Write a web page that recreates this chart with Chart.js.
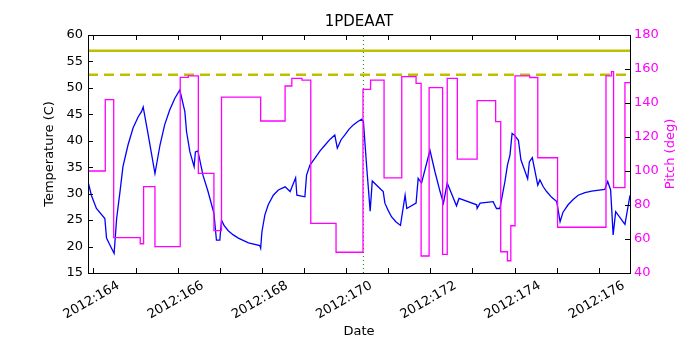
<!DOCTYPE html>
<html>
<head>
<meta charset="utf-8">
<script src="https://cdn.jsdelivr.net/npm/chart.js@4"></script>
<style>
  body { margin: 0; background: #fff; }
</style>
</head>
<body>
<canvas id="chart" width="700" height="350"></canvas>
<script>
// temperature trace (day of year 2012, deg C)
const tempDays = [163.87, 163.95, 164.07, 164.27, 164.31, 164.39, 164.49, 164.55, 164.63, 164.70,
  164.82, 164.94, 165.06, 165.14, 165.18, 165.30, 165.46, 165.58, 165.69, 165.81,
  165.93, 166.05, 166.17, 166.21, 166.29, 166.39, 166.42, 166.48, 166.60, 166.72,
  166.86, 166.92, 167.00, 167.04, 167.10, 167.20, 167.32, 167.44, 167.68, 167.95,
  167.97, 168.00, 168.07, 168.15, 168.27, 168.39, 168.55, 168.67, 168.80, 168.83,
  169.02, 169.06, 169.14, 169.26, 169.38, 169.50, 169.62, 169.73, 169.79, 169.88,
  169.97, 170.07, 170.17, 170.27, 170.37, 170.41, 170.49, 170.57, 170.62, 170.84,
  170.88, 170.92, 171.00, 171.08, 171.18, 171.29, 171.40, 171.44, 171.66, 171.71,
  171.79, 171.99, 172.11, 172.23, 172.31, 172.40, 172.62, 172.68, 173.10, 173.11,
  173.18, 173.49, 173.57, 173.65, 173.77, 173.83, 173.89, 173.94, 173.99, 174.09,
  174.15, 174.31, 174.35, 174.42, 174.55, 174.60, 174.68, 174.76, 174.88, 175.00,
  175.08, 175.15, 175.27, 175.39, 175.51, 175.67, 175.83, 176.14, 176.21, 176.28,
  176.34, 176.40, 176.62, 176.74];
const tempValues = [32.3, 29.7, 27.2, 25.3, 21.6, 20.3, 18.7, 25.3, 30.4, 35.1,
  39.2, 42.4, 44.5, 45.5, 46.4, 41.1, 33.8, 39.2, 43.0, 45.8,
  48.0, 49.6, 45.5, 41.7, 37.9, 35.1, 37.9, 38.1, 33.5, 30.4,
  26.3, 21.2, 21.2, 25.0, 24.0, 23.0, 22.2, 21.6, 20.7, 20.2,
  19.7, 22.8, 26.0, 27.9, 29.7, 30.7, 31.3, 30.4, 33.0, 29.7,
  29.4, 33.5, 35.4, 36.7, 38.1, 39.2, 40.3, 41.1, 38.6, 40.2,
  41.1, 42.2, 43.0, 43.6, 44.1, 43.6, 34.8, 26.7, 32.4, 30.7,
  30.4, 28.2, 26.8, 25.6, 24.7, 24.0, 29.7, 27.2, 28.2, 32.9,
  32.0, 38.2, 34.1, 30.4, 28.2, 32.0, 27.7, 29.1, 27.9, 27.2,
  28.2, 28.5, 27.2, 27.2, 32.3, 35.4, 37.3, 41.4, 41.1, 40.1,
  36.4, 32.8, 36.0, 36.8, 31.6, 32.6, 31.3, 30.4, 29.3, 28.5,
  24.7, 26.5, 27.9, 28.9, 29.7, 30.2, 30.5, 30.8, 32.3, 30.7,
  22.2, 26.6, 24.2, 29.7];

// pitch attitude (deg), each value holds from its day until the next
const pitchDays = [163.87, 164.28, 164.48, 165.11, 165.19, 165.46, 166.06, 166.25, 166.49, 166.86,
  167.04, 167.97, 168.55, 168.71, 168.95, 169.16, 169.76, 170.40, 170.58, 170.90,
  171.32, 171.66, 171.78, 171.97, 172.29, 172.40, 172.64, 173.11, 173.55, 173.67,
  173.83, 173.91, 174.01, 174.36, 174.55, 175.02, 176.17, 176.30, 176.35, 176.62, 176.74];
const pitchValues = [100, 142, 60.8, 57.2, 90.8, 55.5, 155.1, 155.9, 98.6, 64.9,
  143.4, 129.4, 150, 154.5, 153.5, 69.2, 52.2, 148, 153.5, 96,
  155.5, 151.6, 50, 149, 51, 154.5, 107, 141.4, 129, 52.5,
  47.2, 67.8, 156, 155, 107.8, 66.9, 156, 158.4, 90.2, 152, 152];

const planningLimit = 57;
const cautionLimit = 52.5;
const markerDay = 170.41;
const dayRange = [163.87, 176.74];
const labelDays = [164, 166, 168, 170, 172, 174, 176];

const FONT = 'DejaVu Sans';
const MAGENTA = '#ff00ff';

const xy = (xs, ys) => xs.map((x, i) => ({ x: x, y: ys[i] }));

// inward tick marks, plot frame and the right axis label (reads bottom to top)
const frame = {
  id: 'frame',
  afterDraw(chart) {
    const { ctx, chartArea: a, scales } = chart;
    ctx.save();
    ctx.strokeStyle = '#000';
    ctx.lineWidth = 1;
    ctx.beginPath();
    for (let d = 164; d <= 176; d++) {
      const px = Math.round(scales.x.getPixelForValue(d)) + 0.5;
      ctx.moveTo(px, a.bottom); ctx.lineTo(px, a.bottom - 5);
      ctx.moveTo(px, a.top); ctx.lineTo(px, a.top + 5);
    }
    scales.y.ticks.forEach(t => {
      const py = Math.round(scales.y.getPixelForValue(t.value)) + 0.5;
      ctx.moveTo(a.left, py); ctx.lineTo(a.left + 5, py);
    });
    scales.y2.ticks.forEach(t => {
      const py = Math.round(scales.y2.getPixelForValue(t.value)) + 0.5;
      ctx.moveTo(a.right, py); ctx.lineTo(a.right - 5, py);
    });
    ctx.stroke();
    ctx.strokeRect(Math.round(a.left) + 0.5, Math.round(a.top) + 0.5,
      Math.round(a.right - a.left), Math.round(a.bottom - a.top));

    ctx.translate(671, (a.top + a.bottom) / 2);
    ctx.rotate(-Math.PI / 2);
    ctx.fillStyle = MAGENTA;
    ctx.font = '13px "' + FONT + '"';
    ctx.textAlign = 'center';
    ctx.textBaseline = 'middle';
    ctx.fillText('Pitch (deg)', 0, 0);
    ctx.restore();
  }
};

new Chart(document.getElementById('chart'), {
  type: 'line',
  data: {
    datasets: [
      {
        label: 'Pitch',
        data: xy(pitchDays, pitchValues),
        yAxisID: 'y2',
        stepped: 'before',
        borderColor: MAGENTA,
        borderWidth: 1.3,
        order: 0
      },
      {
        label: 'Planning limit',
        data: xy(dayRange, [planningLimit, planningLimit]),
        yAxisID: 'y',
        borderColor: '#bfbf00',
        borderWidth: 2.5,
        order: 1
      },
      {
        label: 'Caution limit',
        data: xy(dayRange, [cautionLimit, cautionLimit]),
        yAxisID: 'y',
        borderColor: '#bfbf00',
        borderWidth: 2.5,
        borderDash: [10, 6],
        order: 1
      },
      {
        label: 'Now',
        data: xy([markerDay, markerDay], [15, 60]),
        yAxisID: 'y',
        borderColor: '#008000',
        borderWidth: 1,
        borderDash: [1, 3],
        order: 1
      },
      {
        label: 'Temperature',
        data: xy(tempDays, tempValues),
        yAxisID: 'y',
        borderColor: '#0000ff',
        borderWidth: 1.3,
        order: 2
      }
    ]
  },
  options: {
    responsive: false,
    animation: false,
    layout: { padding: 0 },
    elements: { point: { radius: 0 }, line: { tension: 0 } },
    plugins: {
      legend: { display: false },
      tooltip: { enabled: false },
      title: {
        display: true,
        text: '1PDEAAT',
        color: '#000',
        fullSize: false,
        font: { family: FONT, size: 15, weight: 'normal' },
        padding: { top: 13, bottom: 4 }
      }
    },
    scales: {
      x: {
        type: 'linear',
        min: dayRange[0],
        max: dayRange[1],
        grid: { display: false, drawTicks: false },
        border: { display: false },
        ticks: {
          stepSize: 1,
          autoSkip: false,
          includeBounds: false,
          minRotation: 30,
          maxRotation: 30,
          labelOffset: 25,
          padding: 5,
          color: '#000',
          font: { family: FONT, size: 13 },
          callback: v => labelDays.includes(v) ? '2012:' + v : ''
        },
        title: {
          display: true,
          text: 'Date',
          color: '#000',
          font: { family: FONT, size: 13 },
          padding: { bottom: 11 }
        },
        afterFit: s => { s.height = 77; }
      },
      y: {
        position: 'left',
        min: 15,
        max: 60,
        grid: { display: false, drawTicks: false },
        border: { display: false },
        ticks: {
          stepSize: 5,
          padding: 5,
          color: '#000',
          font: { family: FONT, size: 13 }
        },
        title: {
          display: true,
          text: 'Temperature (C)',
          color: '#000',
          font: { family: FONT, size: 13 },
          padding: { top: 42 }
        },
        afterFit: s => { s.width = 88; }
      },
      y2: {
        position: 'right',
        min: 40,
        max: 180,
        grid: { display: false, drawTicks: false },
        border: { display: false },
        ticks: {
          stepSize: 20,
          padding: 4,
          color: MAGENTA,
          font: { family: FONT, size: 13 }
        },
        afterFit: s => { s.width = 70; }
      }
    }
  },
  plugins: [frame]
});
</script>
</body>
</html>
